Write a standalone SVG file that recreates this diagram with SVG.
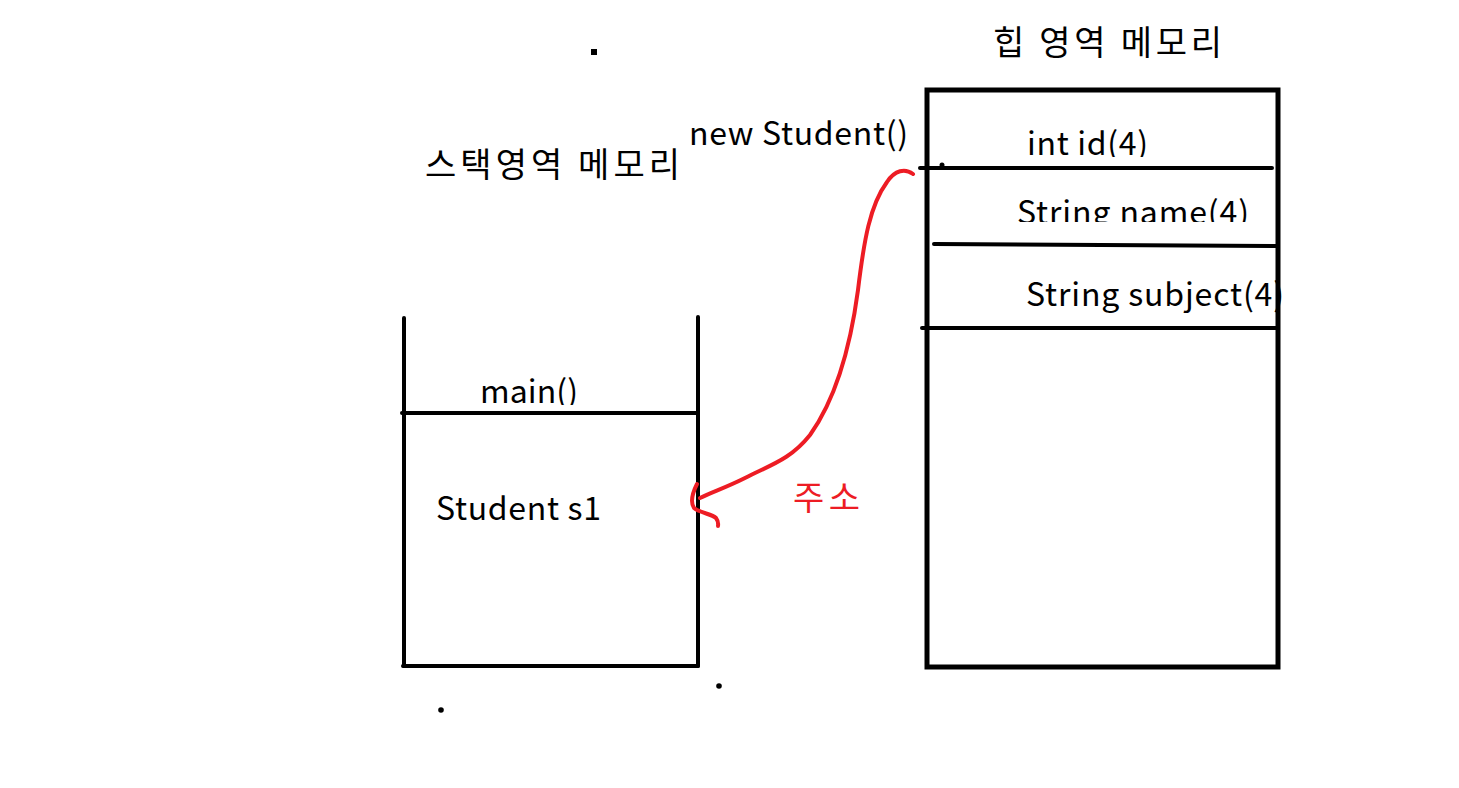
<svg xmlns="http://www.w3.org/2000/svg" width="1459" height="788" viewBox="0 0 1459 788">
<style>
.t{font-family:"Noto Sans CJK KR","Noto Sans",sans-serif;font-size:32px;fill:#000}
.k{font-family:"Noto Sans CJK KR",sans-serif;font-size:34px;fill:#000}
.ln{stroke:#000;stroke-width:4;stroke-linecap:round;fill:none}
.bx{stroke:#000;stroke-width:5;fill:none}
.red{stroke:#ed1c24;stroke-width:4;fill:none;stroke-linecap:round;stroke-linejoin:round}
</style>
<defs>
<clipPath id="c1"><rect x="1000" y="100" width="270" height="57"/></clipPath>
<clipPath id="c2"><rect x="1000" y="180" width="270" height="42"/></clipPath>
<clipPath id="c3"><rect x="1000" y="260" width="282" height="60"/></clipPath>
<clipPath id="c4"><rect x="460" y="350" width="200" height="55"/></clipPath>
</defs>
<rect width="1459" height="788" fill="#fff"/>
<g id="labels">
<text class="k" x="993" y="55" textLength="229" lengthAdjust="spacing">힙 영역 메모리</text>
<text class="k" x="425" y="177" textLength="255" lengthAdjust="spacing">스택영역 메모리</text>
<text class="t" x="689" y="145" textLength="219" lengthAdjust="spacing">new Student()</text>
<text x="793" y="510" textLength="67" lengthAdjust="spacing" style="font-family:'Noto Sans CJK KR',sans-serif;font-size:34px;fill:#ed1c24">주소</text>
</g>
<g id="heap">
<text class="t" x="1027" y="155" clip-path="url(#c1)" textLength="121" lengthAdjust="spacing">int id(4)</text>
<text class="t" x="1017" y="224" clip-path="url(#c2)" textLength="232" lengthAdjust="spacing">String name(4)</text>
<text class="t" x="1026" y="306" clip-path="url(#c3)" textLength="258" lengthAdjust="spacing">String subject(4)</text>
<rect class="bx" x="927" y="90" width="351" height="577"/>
<line class="ln" x1="920" y1="168" x2="1272" y2="168"/>
<line class="ln" x1="934" y1="244" x2="1277" y2="246"/>
<line class="ln" x1="922" y1="328" x2="1277" y2="328"/>
<circle cx="942" cy="165" r="2.5"/>
</g>
<g id="stack">
<line class="ln" x1="404" y1="318" x2="404" y2="666"/>
<line class="ln" x1="698" y1="317" x2="698" y2="666"/>
<line class="ln" x1="403" y1="666" x2="698" y2="666"/>
<line class="ln" x1="402" y1="413" x2="697" y2="413"/>
<text class="t" x="480" y="403" clip-path="url(#c4)" textLength="98" lengthAdjust="spacing">main()</text>
<text class="t" x="436" y="520" textLength="165" lengthAdjust="spacing">Student s1</text>
</g>
<g id="dots">
<rect x="591" y="49" width="6" height="6"/>
<circle cx="441" cy="710" r="2.8"/>
<circle cx="719" cy="686" r="2.8"/>
</g>
<g id="connectors">
<path class="red" d="M913,174 C905,168 895,170 887,182 C870,205 864,240 858,290 C850,350 835,400 810,435 C790,460 770,465 745,478 C725,488 712,492 700,498"/>
<path class="red" d="M697,484 C693,492 690,502 694,508 C700,513 712,514 716,518 C719,522 718,525 718,526"/>
</g>
</svg>
